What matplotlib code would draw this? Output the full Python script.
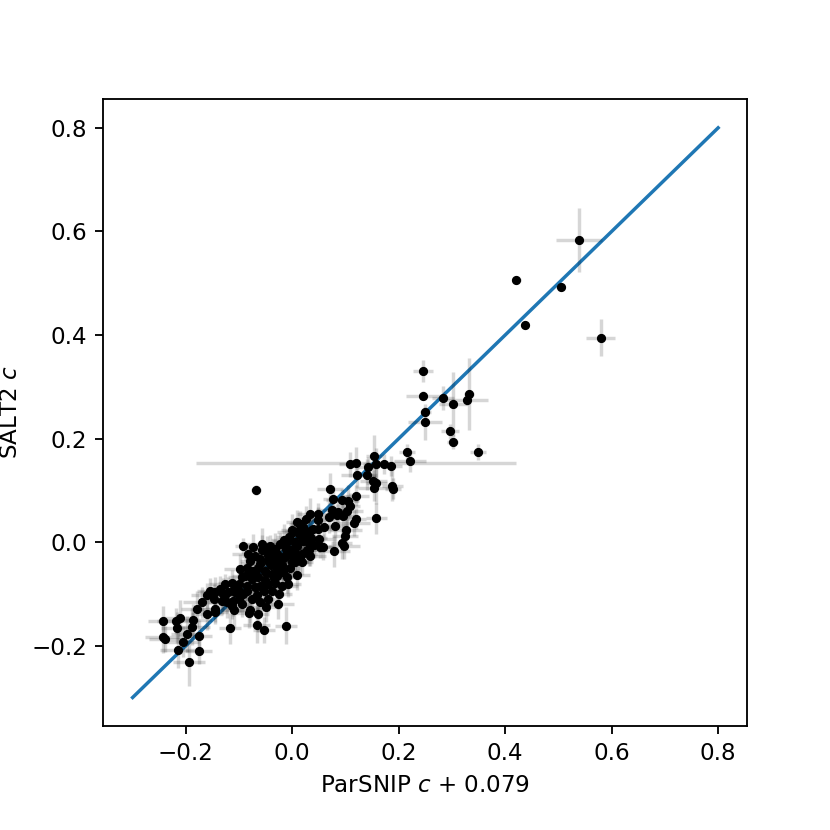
import numpy as np
import matplotlib
matplotlib.use("Agg")
import matplotlib.pyplot as plt

# ParSNIP colour (shifted) vs SALT2 colour
parsnip_c = [
    0.538, 0.421, 0.504, 0.437, 0.579, 0.246, 0.246, 0.283, 0.302, 0.332,
    0.328, 0.250, 0.250, 0.296, 0.301, 0.348, 0.216, 0.221, 0.186, 0.120,
    0.108, 0.153, 0.143, 0.158, 0.172, 0.122, 0.140, 0.152, 0.158, 0.153,
    0.188, 0.189, -0.068, 0.071, 0.077, 0.093, 0.105, 0.119, 0.108, 0.075,
    0.069, 0.084, 0.096, 0.102, 0.119, 0.116, 0.158, 0.033, 0.049, 0.049,
    0.080, 0.101, 0.099, 0.093, 0.098, 0.052, 0.058, 0.078, 0.033, 0.038,
    0.049, 0.051, 0.032, 0.014, 0.011, 0.024, -0.001, -0.006, 0.005, -0.092,
    0.008, 0.086, 0.021, 0.014, 0.021, 0.030, 0.008, 0.002, 0.008, 0.027,
    0.033, 0.014, 0.018, -0.011, -0.023, -0.032, -0.036, -0.026, -0.014, -0.001,
    -0.017, -0.029, 0.014, 0.024, -0.008, 0.021, 0.002, 0.018, 0.005, -0.014,
    -0.023, -0.036, -0.048, -0.057, -0.070, -0.079, -0.061, -0.045, -0.029, -0.017,
    -0.039, -0.051, -0.064, -0.073, -0.086, -0.098, -0.089, -0.076, -0.064, -0.051,
    -0.032, -0.020, -0.008, -0.039, -0.054, -0.070, -0.086, -0.101, -0.114, -0.126,
    -0.136, -0.120, -0.108, -0.092, -0.145, -0.154, -0.161, -0.148, -0.132, -0.126,
    -0.170, -0.067, -0.045, -0.026, -0.079, -0.145, -0.111, -0.095, -0.004, -0.073,
    -0.057, -0.042, -0.029, -0.083, -0.242, -0.219, -0.211, -0.186, -0.217, -0.189,
    -0.242, -0.239, -0.197, -0.175, -0.205, -0.214, -0.176, -0.194, -0.117, -0.067,
    -0.053, -0.012, -0.081, -0.064, -0.161, -0.145, -0.179, -0.123, -0.114, -0.109,
    -0.101,
    -0.040, -0.020, -0.005, -0.010, -0.045, -0.060, -0.025, -0.035, 0.000, -0.050,
    -0.070, -0.080, -0.095, -0.110, -0.100, -0.085, -0.060, -0.045, -0.030, -0.010,
    0.005, -0.015, 0.035, 0.040, -0.130, -0.075, -0.060, -0.050, 0.060, 0.025,
]
salt2_c = [
    0.584, 0.506, 0.493, 0.420, 0.395, 0.330, 0.283, 0.279, 0.266, 0.286,
    0.275, 0.251, 0.232, 0.214, 0.194, 0.174, 0.174, 0.156, 0.147, 0.153,
    0.150, 0.166, 0.145, 0.151, 0.151, 0.130, 0.130, 0.119, 0.114, 0.104,
    0.109, 0.103, 0.101, 0.103, 0.084, 0.082, 0.080, 0.090, 0.069, 0.063,
    0.048, 0.053, 0.051, 0.061, 0.045, 0.037, 0.046, 0.055, 0.055, 0.042,
    0.032, 0.024, 0.011, -0.002, -0.007, -0.010, -0.010, -0.018, 0.022, 0.026,
    0.026, 0.006, -0.016, 0.035, 0.022, 0.009, 0.024, 0.009, 0.000, -0.007,
    -0.063, 0.058, 0.029, 0.013, 0.003, 0.000, 0.038, 0.019, -0.007, -0.016,
    -0.026, -0.029, -0.039, -0.013, -0.003, -0.013, -0.029, -0.036, -0.029, -0.039,
    -0.058, -0.065, 0.016, 0.022, 0.003, 0.006, -0.013, -0.023, -0.039, -0.026,
    -0.036, -0.020, -0.013, -0.016, -0.026, -0.036, -0.032, -0.036, -0.049, -0.055,
    -0.061, -0.055, -0.049, -0.055, -0.049, -0.052, -0.065, -0.071, -0.068, -0.074,
    -0.078, -0.084, -0.080, -0.094, -0.094, -0.087, -0.084, -0.081, -0.078, -0.081,
    -0.090, -0.097, -0.097, -0.100, -0.097, -0.094, -0.103, -0.110, -0.113, -0.103,
    -0.116, -0.103, -0.110, -0.119, -0.131, -0.129, -0.113, -0.119, -0.016, -0.010,
    -0.003, -0.007, -0.023, -0.022, -0.153, -0.153, -0.147, -0.150, -0.165, -0.163,
    -0.184, -0.187, -0.177, -0.181, -0.192, -0.208, -0.210, -0.232, -0.166, -0.160,
    -0.170, -0.161, -0.136, -0.138, -0.139, -0.134, -0.129, -0.116, -0.123, -0.131,
    -0.110,
    -0.045, -0.045, -0.050, -0.068, -0.080, -0.085, -0.100, -0.070, -0.025, -0.060,
    -0.062, -0.060, -0.068, -0.090, -0.095, -0.095, -0.042, -0.025, -0.032, -0.020,
    -0.020, 0.005, 0.008, -0.005, -0.100, -0.110, -0.115, -0.125, 0.030, 0.045,
]
parsnip_err = [
    0.043, 0.008, 0.008, 0.008, 0.027, 0.019, 0.032, 0.021, 0.026, 0.010,
    0.040, 0.010, 0.032, 0.017, 0.010, 0.015, 0.015, 0.030, 0.020, 0.300,
    0.020, 0.015, 0.020, 0.025, 0.015, 0.030, 0.020, 0.025, 0.020, 0.030,
    0.020, 0.015, 0.010, 0.025, 0.020, 0.030, 0.020, 0.025, 0.020, 0.030,
    0.020, 0.025, 0.020, 0.030, 0.020, 0.030, 0.020, 0.025, 0.020, 0.030,
    0.025, 0.030, 0.025, 0.020, 0.030, 0.025, 0.020, 0.030, 0.025, 0.020,
    0.030, 0.025, 0.030, 0.020, 0.025, 0.030, 0.020, 0.025, 0.030, 0.015,
    0.025, 0.020, 0.025, 0.020, 0.030, 0.025, 0.020, 0.030, 0.025, 0.020,
    0.030, 0.025, 0.020, 0.030, 0.025, 0.020, 0.030, 0.025, 0.020, 0.030,
    0.025, 0.020, 0.025, 0.020, 0.030, 0.025, 0.020, 0.030, 0.025, 0.020,
    0.030, 0.025, 0.020, 0.030, 0.025, 0.020, 0.030, 0.025, 0.020, 0.030,
    0.025, 0.020, 0.030, 0.025, 0.020, 0.030, 0.025, 0.020, 0.030, 0.025,
    0.020, 0.030, 0.025, 0.020, 0.030, 0.025, 0.020, 0.030, 0.025, 0.030,
    0.025, 0.020, 0.030, 0.025, 0.030, 0.025, 0.030, 0.025, 0.020, 0.030,
    0.035, 0.025, 0.020, 0.030, 0.025, 0.030, 0.025, 0.020, 0.025, 0.020,
    0.030, 0.025, 0.020, 0.030, 0.030, 0.035, 0.030, 0.035, 0.030, 0.035,
    0.035, 0.030, 0.030, 0.025, 0.030, 0.035, 0.025, 0.030, 0.020, 0.025,
    0.020, 0.020, 0.025, 0.020, 0.030, 0.025, 0.030, 0.025, 0.030, 0.025,
    0.030,
    0.025, 0.030, 0.020, 0.025, 0.030, 0.020, 0.025, 0.030, 0.020, 0.025,
    0.030, 0.020, 0.025, 0.030, 0.020, 0.025, 0.030, 0.020, 0.025, 0.030,
    0.020, 0.025, 0.030, 0.020, 0.025, 0.030, 0.020, 0.025, 0.030, 0.020,
]
salt2_err = [
    0.062, 0.005, 0.006, 0.006, 0.036, 0.021, 0.008, 0.023, 0.062, 0.070,
    0.010, 0.010, 0.035, 0.015, 0.015, 0.015, 0.015, 0.020, 0.020, 0.030,
    0.025, 0.040, 0.020, 0.030, 0.020, 0.025, 0.030, 0.020, 0.040, 0.025,
    0.030, 0.020, 0.010, 0.030, 0.025, 0.020, 0.030, 0.020, 0.025, 0.020,
    0.030, 0.020, 0.025, 0.030, 0.020, 0.025, 0.030, 0.030, 0.020, 0.025,
    0.030, 0.025, 0.020, 0.030, 0.025, 0.020, 0.025, 0.030, 0.025, 0.030,
    0.020, 0.025, 0.030, 0.025, 0.020, 0.025, 0.030, 0.020, 0.025, 0.015,
    0.030, 0.025, 0.020, 0.025, 0.030, 0.020, 0.025, 0.020, 0.030, 0.025,
    0.020, 0.030, 0.025, 0.025, 0.020, 0.030, 0.025, 0.020, 0.025, 0.030,
    0.025, 0.030, 0.020, 0.025, 0.020, 0.030, 0.025, 0.020, 0.025, 0.030,
    0.025, 0.020, 0.025, 0.030, 0.020, 0.025, 0.020, 0.030, 0.025, 0.020,
    0.025, 0.030, 0.025, 0.020, 0.025, 0.030, 0.025, 0.020, 0.025, 0.030,
    0.025, 0.020, 0.025, 0.030, 0.025, 0.020, 0.025, 0.030, 0.025, 0.020,
    0.025, 0.030, 0.025, 0.020, 0.030, 0.025, 0.025, 0.030, 0.025, 0.020,
    0.030, 0.030, 0.025, 0.030, 0.025, 0.025, 0.030, 0.025, 0.020, 0.025,
    0.030, 0.020, 0.025, 0.020, 0.030, 0.025, 0.035, 0.030, 0.030, 0.035,
    0.030, 0.025, 0.035, 0.030, 0.030, 0.035, 0.025, 0.045, 0.030, 0.035,
    0.025, 0.035, 0.030, 0.035, 0.030, 0.025, 0.035, 0.030, 0.025, 0.035,
    0.025,
    0.030, 0.020, 0.025, 0.030, 0.020, 0.025, 0.030, 0.020, 0.025, 0.030,
    0.020, 0.025, 0.030, 0.020, 0.025, 0.030, 0.020, 0.025, 0.030, 0.020,
    0.025, 0.030, 0.020, 0.025, 0.030, 0.020, 0.025, 0.030, 0.020, 0.025,
]

# one-to-one reference line
line_ends = [-0.3, 0.8]

fig = plt.figure(figsize=(5, 5), dpi=166)
ax = fig.add_axes([0.1245, 0.1253, 0.776, 0.755])

ax.plot(line_ends, line_ends, color="C0", lw=1.5)
ax.errorbar(parsnip_c, salt2_c, xerr=parsnip_err, yerr=salt2_err,
            fmt="k.", ecolor=(0, 0, 0, 0.16), elinewidth=1.5)

ax.set_xlabel("ParSNIP $c$ + 0.079")
ax.set_ylabel("SALT2 $c$")

fig.savefig("out.png", dpi=166)
